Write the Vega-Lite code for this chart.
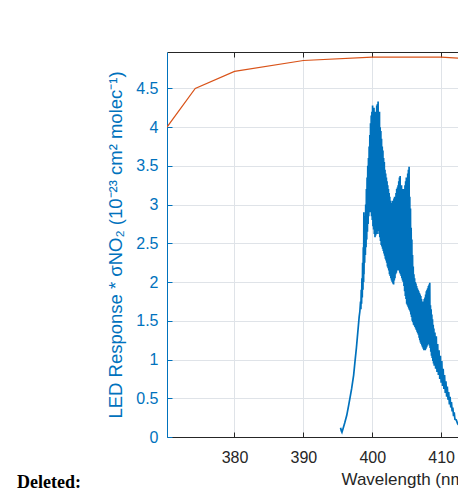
{
  "$schema": "https://vega.github.io/schema/vega-lite/v6.json",
  "autosize": "none",
  "padding": {"left": 167, "top": 52, "right": 0, "bottom": 56},
  "width": 291,
  "height": 385,
  "background": "white",
  "title": {"text": "Deleted:", "orient": "bottom", "anchor": "start", "frame": "group", "font": "Liberation Serif", "fontSize": 18, "fontWeight": "bold", "color": "#000000", "dx": -150, "offset": -13},
  "datasets": {
    "spec": [
      {"wl":395.4,"v":0.12},{"wl":395.5,"v":0.08},{"wl":395.6,"v":0.06},{"wl":395.8,"v":0.12},{"wl":396.0,"v":0.18},{"wl":396.3,"v":0.28},{"wl":396.6,"v":0.42},{"wl":397.0,"v":0.62},{"wl":397.3,"v":0.80},{"wl":397.5,"v":0.98},{"wl":397.7,"v":1.15},{"wl":397.9,"v":1.35},{"wl":398.0,"v":1.45},{"wl":398.1,"v":1.55},{"wl":398.2,"v":1.62},{"wl":398.3,"v":1.75},
      {"wl":398.35,"v":1.65},{"wl":398.4,"v":1.90},{"wl":398.45,"v":1.72},{"wl":398.5,"v":2.05},{"wl":398.55,"v":1.80},{"wl":398.6,"v":2.25},{"wl":398.65,"v":1.90},{"wl":398.7,"v":2.45},{"wl":398.75,"v":2.00},{"wl":398.78,"v":2.90},{"wl":398.8,"v":2.10},{"wl":398.85,"v":2.60},{"wl":398.9,"v":2.25},{"wl":398.95,"v":2.85},
      {"wl":399.0,"v":2.35},{"wl":399.05,"v":3.00},{"wl":399.1,"v":2.45},{"wl":399.15,"v":3.20},{"wl":399.2,"v":2.55},{"wl":399.25,"v":3.35},{"wl":399.3,"v":2.65},{"wl":399.35,"v":3.50},{"wl":399.4,"v":2.75},{"wl":399.45,"v":3.60},{"wl":399.5,"v":2.85},{"wl":399.55,"v":3.75},{"wl":399.6,"v":2.90},{"wl":399.65,"v":3.90},{"wl":399.7,"v":2.90},{"wl":399.75,"v":4.05},{"wl":399.8,"v":3.00},{"wl":399.85,"v":4.15},{"wl":399.9,"v":2.85},{"wl":399.95,"v":4.20},
      {"wl":400.0,"v":2.80},{"wl":400.05,"v":4.28},{"wl":400.1,"v":2.72},{"wl":400.15,"v":4.10},{"wl":400.2,"v":2.68},{"wl":400.25,"v":4.25},{"wl":400.3,"v":2.62},{"wl":400.35,"v":4.05},{"wl":400.4,"v":2.58},{"wl":400.45,"v":4.20},{"wl":400.5,"v":2.60},{"wl":400.55,"v":4.15},{"wl":400.6,"v":2.66},{"wl":400.65,"v":4.28},{"wl":400.7,"v":2.62},{"wl":400.75,"v":4.30},{"wl":400.8,"v":2.68},{"wl":400.85,"v":4.33},{"wl":400.9,"v":2.66},{"wl":400.95,"v":4.10},
      {"wl":401.0,"v":2.62},{"wl":401.05,"v":4.20},{"wl":401.1,"v":2.58},{"wl":401.15,"v":4.00},{"wl":401.2,"v":2.53},{"wl":401.25,"v":3.95},{"wl":401.3,"v":2.48},{"wl":401.35,"v":3.85},{"wl":401.4,"v":2.46},{"wl":401.45,"v":3.75},{"wl":401.5,"v":2.43},{"wl":401.55,"v":3.70},{"wl":401.6,"v":2.40},{"wl":401.65,"v":3.60},{"wl":401.7,"v":2.37},{"wl":401.75,"v":3.55},{"wl":401.8,"v":2.34},{"wl":401.85,"v":3.45},{"wl":401.9,"v":2.30},{"wl":401.95,"v":3.40},
      {"wl":402.0,"v":2.28},{"wl":402.05,"v":3.35},{"wl":402.1,"v":2.25},{"wl":402.15,"v":3.30},{"wl":402.2,"v":2.20},{"wl":402.25,"v":3.25},{"wl":402.3,"v":2.18},{"wl":402.35,"v":3.20},{"wl":402.4,"v":2.15},{"wl":402.45,"v":3.15},{"wl":402.5,"v":2.10},{"wl":402.55,"v":3.10},{"wl":402.6,"v":2.08},{"wl":402.65,"v":3.05},{"wl":402.7,"v":2.05},{"wl":402.75,"v":3.00},{"wl":402.8,"v":2.02},{"wl":402.85,"v":3.02},{"wl":402.9,"v":2.00},{"wl":402.95,"v":3.05},
      {"wl":403.0,"v":1.98},{"wl":403.05,"v":3.00},{"wl":403.1,"v":1.97},{"wl":403.15,"v":3.08},{"wl":403.2,"v":2.02},{"wl":403.25,"v":3.10},{"wl":403.3,"v":2.05},{"wl":403.35,"v":3.05},{"wl":403.4,"v":2.10},{"wl":403.45,"v":3.15},{"wl":403.5,"v":2.12},{"wl":403.55,"v":3.20},{"wl":403.6,"v":2.15},{"wl":403.65,"v":3.22},{"wl":403.7,"v":2.15},{"wl":403.75,"v":3.25},{"wl":403.8,"v":2.18},{"wl":403.85,"v":3.30},{"wl":403.9,"v":2.15},{"wl":403.95,"v":3.35},
      {"wl":404.0,"v":2.12},{"wl":404.05,"v":3.37},{"wl":404.1,"v":2.10},{"wl":404.15,"v":3.20},{"wl":404.2,"v":2.08},{"wl":404.25,"v":3.25},{"wl":404.3,"v":2.05},{"wl":404.35,"v":3.15},{"wl":404.4,"v":2.02},{"wl":404.45,"v":3.20},{"wl":404.5,"v":2.00},{"wl":404.55,"v":3.10},{"wl":404.6,"v":1.95},{"wl":404.65,"v":3.20},{"wl":404.7,"v":1.88},{"wl":404.75,"v":3.25},{"wl":404.8,"v":1.82},{"wl":404.85,"v":3.30},{"wl":404.9,"v":1.78},{"wl":404.95,"v":3.35},
      {"wl":405.0,"v":1.72},{"wl":405.05,"v":3.28},{"wl":405.1,"v":1.70},{"wl":405.15,"v":3.40},{"wl":405.2,"v":1.68},{"wl":405.25,"v":3.45},{"wl":405.3,"v":1.66},{"wl":405.35,"v":3.49},{"wl":405.4,"v":1.64},{"wl":405.45,"v":3.10},{"wl":405.5,"v":1.62},{"wl":405.55,"v":2.95},{"wl":405.6,"v":1.58},{"wl":405.65,"v":2.70},{"wl":405.7,"v":1.55},{"wl":405.75,"v":2.55},{"wl":405.8,"v":1.50},{"wl":405.85,"v":2.35},{"wl":405.9,"v":1.48},{"wl":405.95,"v":2.20},
      {"wl":406.0,"v":1.45},{"wl":406.05,"v":2.10},{"wl":406.1,"v":1.44},{"wl":406.15,"v":2.05},{"wl":406.2,"v":1.42},{"wl":406.25,"v":2.00},{"wl":406.3,"v":1.40},{"wl":406.35,"v":1.98},{"wl":406.4,"v":1.38},{"wl":406.45,"v":1.95},{"wl":406.5,"v":1.36},{"wl":406.55,"v":1.92},{"wl":406.6,"v":1.34},{"wl":406.65,"v":1.90},{"wl":406.7,"v":1.32},{"wl":406.75,"v":1.88},{"wl":406.8,"v":1.28},{"wl":406.85,"v":1.86},{"wl":406.9,"v":1.25},{"wl":406.95,"v":1.84},
      {"wl":407.0,"v":1.22},{"wl":407.05,"v":1.82},{"wl":407.1,"v":1.20},{"wl":407.15,"v":1.78},{"wl":407.2,"v":1.18},{"wl":407.25,"v":1.75},{"wl":407.3,"v":1.16},{"wl":407.35,"v":1.72},{"wl":407.4,"v":1.14},{"wl":407.45,"v":1.75},{"wl":407.5,"v":1.12},{"wl":407.55,"v":1.78},{"wl":407.6,"v":1.12},{"wl":407.65,"v":1.80},{"wl":407.7,"v":1.12},{"wl":407.75,"v":1.84},{"wl":407.8,"v":1.14},{"wl":407.85,"v":1.88},{"wl":407.9,"v":1.16},{"wl":407.95,"v":1.90},
      {"wl":408.0,"v":1.18},{"wl":408.05,"v":1.92},{"wl":408.1,"v":1.20},{"wl":408.15,"v":1.95},{"wl":408.2,"v":1.20},{"wl":408.25,"v":1.97},{"wl":408.3,"v":1.18},{"wl":408.35,"v":1.99},{"wl":408.4,"v":1.15},{"wl":408.45,"v":1.70},{"wl":408.5,"v":1.10},{"wl":408.55,"v":1.65},{"wl":408.6,"v":1.05},{"wl":408.65,"v":1.58},{"wl":408.7,"v":1.02},{"wl":408.75,"v":1.52},{"wl":408.8,"v":0.98},{"wl":408.85,"v":1.45},{"wl":408.9,"v":0.95},{"wl":408.95,"v":1.40},
      {"wl":409.0,"v":0.92},{"wl":409.1,"v":1.35},{"wl":409.2,"v":0.88},{"wl":409.3,"v":1.30},{"wl":409.4,"v":0.84},{"wl":409.5,"v":1.20},{"wl":409.6,"v":0.80},{"wl":409.7,"v":1.12},{"wl":409.8,"v":0.75},{"wl":409.9,"v":1.05},
      {"wl":410.0,"v":0.70},{"wl":410.1,"v":0.98},{"wl":410.2,"v":0.66},{"wl":410.3,"v":0.88},{"wl":410.4,"v":0.62},{"wl":410.5,"v":0.80},{"wl":410.6,"v":0.57},{"wl":410.7,"v":0.72},{"wl":410.8,"v":0.52},{"wl":410.9,"v":0.65},
      {"wl":411.0,"v":0.48},{"wl":411.1,"v":0.58},{"wl":411.2,"v":0.42},{"wl":411.3,"v":0.52},{"wl":411.4,"v":0.38},{"wl":411.5,"v":0.45},{"wl":411.6,"v":0.33},{"wl":411.7,"v":0.38},{"wl":411.8,"v":0.27},{"wl":411.9,"v":0.32},
      {"wl":412.0,"v":0.23},{"wl":412.2,"v":0.22},{"wl":412.4,"v":0.17},{"wl":412.6,"v":0.15},{"wl":412.8,"v":0.11},{"wl":413.0,"v":0.09},{"wl":413.3,"v":0.06},{"wl":413.6,"v":0.04}
    ],
    "led": [
      {"wl":370.2,"v":4.0},{"wl":374.3,"v":4.5},{"wl":380,"v":4.72},{"wl":390,"v":4.86},{"wl":400,"v":4.905},{"wl":410,"v":4.905},{"wl":420,"v":4.85}
    ]
  },
  "resolve": {"axis": {"x": "independent"}},
  "layer": [
    {
      "data": {"name": "spec"},
      "mark": {"type": "line", "color": "#0072BD", "strokeWidth": 1.7, "clip": true},
      "encoding": {
        "x": {"field": "wl", "type": "quantitative", "scale": {"domain": [370.2, 412.45], "nice": false, "zero": false},
          "axis": {"values": [380, 390, 400, 410], "title": "Wavelength (nm)", "grid": true, "gridColor": "#dfe3e8", "gridWidth": 1,
            "domainColor": "#262626", "tickColor": "#262626", "tickSize": -5, "labelPadding": 17, "labelColor": "#262626", "labelFontSize": 16, "labelFont": "Liberation Sans",
            "titleFont": "Liberation Sans", "titleFontSize": 17, "titleFontWeight": "normal", "titleColor": "#262626", "titleAnchor": "start", "titleAlign": "left", "titleX": 174, "titlePadding": 6}},
        "y": {"field": "v", "type": "quantitative", "scale": {"domain": [0, 4.97], "nice": false, "zero": false},
          "axis": {"values": [0, 0.5, 1, 1.5, 2, 2.5, 3, 3.5, 4, 4.5], "format": "~g", "title": "LED Response * σNO₂ (10⁻²³ cm² molec⁻¹)", "grid": true, "gridColor": "#dfe3e8", "gridWidth": 1,
            "domainColor": "#0072BD", "tickColor": "#0072BD", "tickSize": -5, "labelPadding": 14, "labelColor": "#0072BD", "labelFontSize": 16, "labelFont": "Liberation Sans",
            "titleFont": "Liberation Sans", "titleFontSize": 18.5, "titleFontWeight": "normal", "titleColor": "#0072BD", "titlePadding": 10}}
      }
    },
    {
      "data": {"name": "led"},
      "mark": {"type": "line", "color": "#D95319", "strokeWidth": 1.2, "clip": true},
      "encoding": {
        "x": {"field": "wl", "type": "quantitative", "scale": {"domain": [370.2, 412.45], "nice": false, "zero": false},
          "axis": {"orient": "top", "values": [380, 390, 400, 410], "labels": false, "title": null, "grid": false, "domainColor": "#262626", "tickColor": "#262626", "tickSize": -5}},
        "y": {"field": "v", "type": "quantitative", "scale": {"domain": [0, 4.97], "nice": false, "zero": false}}
      }
    }
  ],
  "config": {"view": {"stroke": null}, "font": "Liberation Sans"}
}
